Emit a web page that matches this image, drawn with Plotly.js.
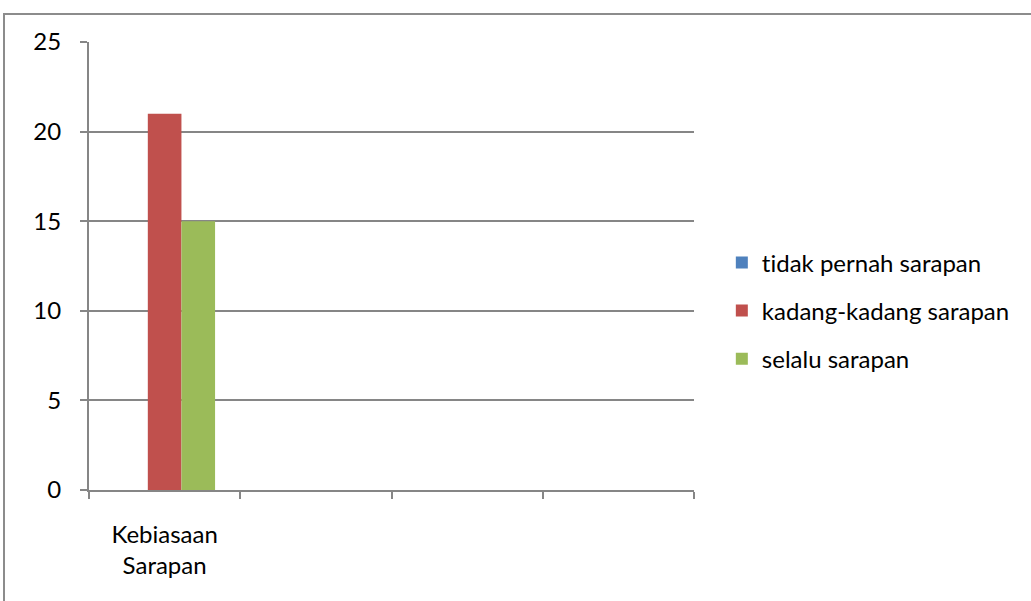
<!DOCTYPE html>
<html>
<head>
<meta charset="utf-8">
<script src="https://cdn.plot.ly/plotly-3.0.1.min.js"></script>
<style>
html,body{margin:0;padding:0;background:#fff;width:1031px;height:601px;overflow:hidden;}
#frame{position:absolute;left:3px;top:13px;width:1040px;height:600px;border-left:2px solid #8c8c8c;border-top:2px solid #8c8c8c;}
#chart{position:absolute;left:0;top:0;width:1026px;height:586px;}
svg text{font-variant-ligatures:none;font-feature-settings:"liga" 0;}
</style>
</head>
<body>
<div id="frame"><div id="chart"></div></div>
<script>
const categories = ["Kebiasaan<br>Sarapan", " ", "  ", "   "];
const seriesNames = ["tidak pernah sarapan", "kadang-kadang sarapan", "selalu sarapan"];
const tidakPernah = [0, null, null, null];
const kadangKadang = [21, null, null, null];
const selalu = [15, null, null, null];
const colors = ["#4f81bd", "#c0504d", "#9bbb59"];
const yTicks = [0, 5, 10, 15, 20, 25];

const seriesValues = [tidakPernah, kadangKadang, selalu];
const font = "Lato, 'Open Sans', sans-serif";
const traces = seriesValues.map((vals, i) => ({
  type: "bar",
  name: seriesNames[i],
  x: categories,
  y: vals,
  marker: {color: colors[i], line: {width: 0}},
  legendgroup: "g" + i,
  hoverinfo: "y"
}));

const layout = {
  width: 1026, height: 586,
  margin: {l: 84, r: 337, t: 27, b: 111},
  paper_bgcolor: "rgba(0,0,0,0)",
  plot_bgcolor: "rgba(0,0,0,0)",
  font: {family: font, size: 24, color: "#000"},
  barmode: "group",
  bargap: 0.333,
  bargroupgap: 0,
  showlegend: true,
  legend: {
    x: 1.046, xanchor: "left", y: 0.40, yanchor: "middle",
    traceorder: "grouped", tracegroupgap: 14,
    font: {family: font, size: 24, color: "#000"},
    bgcolor: "rgba(0,0,0,0)"
  },
  xaxis: {
    type: "category",
    categoryorder: "array", categoryarray: categories,
    showgrid: false,
    showline: true, linecolor: "#868686", linewidth: 2,
    ticks: "outside", tickson: "boundaries", ticklen: 7, tickcolor: "#868686", tickwidth: 2,
    tickfont: {family: font, size: 24, color: "#000"},
    ticklabelstandoff: 22,
    zeroline: false, fixedrange: true
  },
  yaxis: {
    range: [0, 25],
    tickvals: yTicks,
    showgrid: true, gridcolor: "#868686", gridwidth: 2,
    showline: true, linecolor: "#868686", linewidth: 2,
    ticks: "outside", ticklen: 7, tickcolor: "#868686", tickwidth: 2,
    tickfont: {family: font, size: 24, color: "#000"},
    ticklabelstandoff: 14,
    zeroline: false, fixedrange: true
  }
};

Plotly.newPlot("chart", traces, layout, {displayModeBar: false, staticPlot: true});
</script>
</body>
</html>
